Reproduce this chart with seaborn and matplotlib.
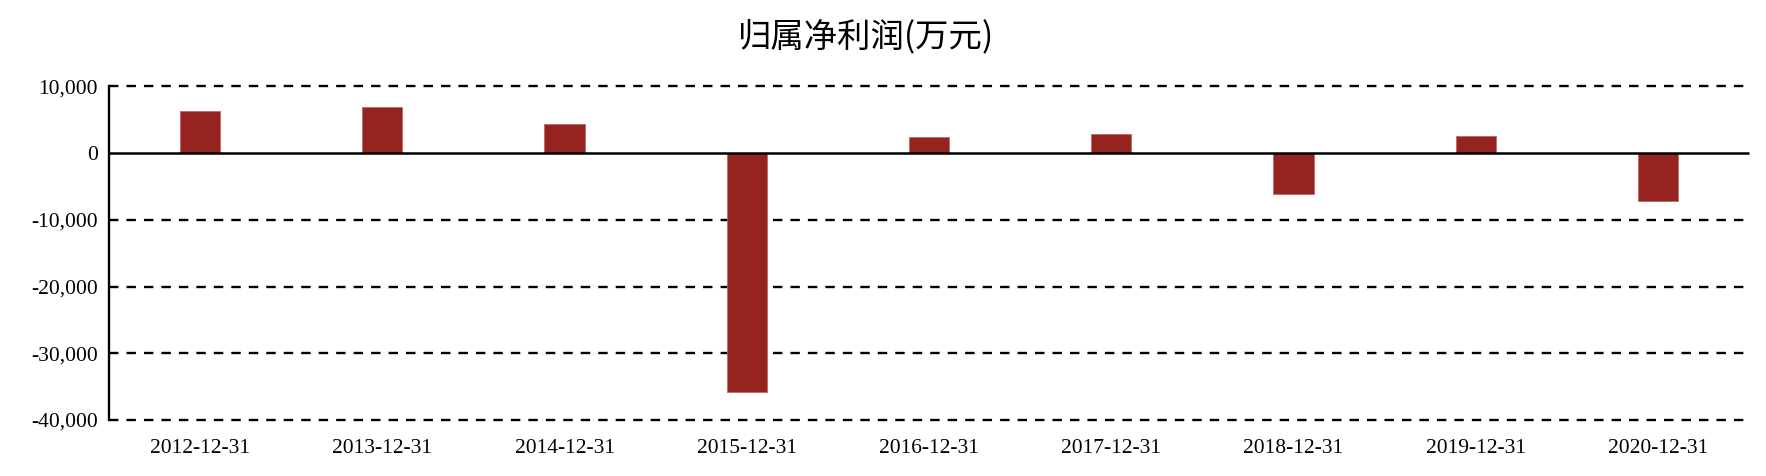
import matplotlib
matplotlib.use("Agg")
import matplotlib.pyplot as plt
import seaborn as sns
import pandas as pd
from matplotlib.ticker import FuncFormatter

dates = ["2012-12-31", "2013-12-31", "2014-12-31", "2015-12-31", "2016-12-31",
         "2017-12-31", "2018-12-31", "2019-12-31", "2020-12-31"]
profit = [6300, 6900, 4350, -35800, 2450, 2930, -6150, 2630, -7200]
y_ticks = [10000, 0, -10000, -20000, -30000, -40000]
title = "归属净利润(万元)"

sns.set_theme(style="white")
plt.rcParams['font.family'] = ['Liberation Serif', 'DejaVu Serif']

df = pd.DataFrame({"date": dates, "profit": profit})

fig = plt.figure(figsize=(17.66, 4.76), dpi=100)
ax = fig.add_axes([0.0617, 0.1176, 0.9287, 0.7007])

sns.barplot(data=df, x="date", y="profit", order=dates, color="#952420",
            saturation=1, width=0.22, edgecolor="#b86a66", linewidth=0.6, ax=ax)

ax.set_ylim(-40000, 10000)
ax.set_xlim(-0.5, len(dates) - 0.5)
ax.set_yticks(y_ticks)
ax.yaxis.set_major_formatter(FuncFormatter(lambda v, p: f"{int(v):,}"))

for v in y_ticks:
    if v != 0:
        ax.axhline(v, color="black", linestyle=(0, (4.0, 3.4)), linewidth=1.7,
                   zorder=0, clip_on=False)
ax.axhline(0, color="black", linewidth=1.8, zorder=3, clip_on=False,
           solid_capstyle="butt")

for s in ["top", "right", "bottom"]:
    ax.spines[s].set_visible(False)
ax.spines["left"].set_color("black")
ax.spines["left"].set_linewidth(1.7)

ax.tick_params(axis="both", length=0, labelsize=15.5, colors="black", pad=8)
ax.tick_params(axis="x", pad=14)
ax.set_xlabel("")
ax.set_ylabel("")

fig.text(0.4904, 0.922, title, ha="center", va="center", fontsize=24,
         family=["Noto Sans CJK SC", "DejaVu Sans"], color="black")

fig.savefig("out.png", dpi=100)
